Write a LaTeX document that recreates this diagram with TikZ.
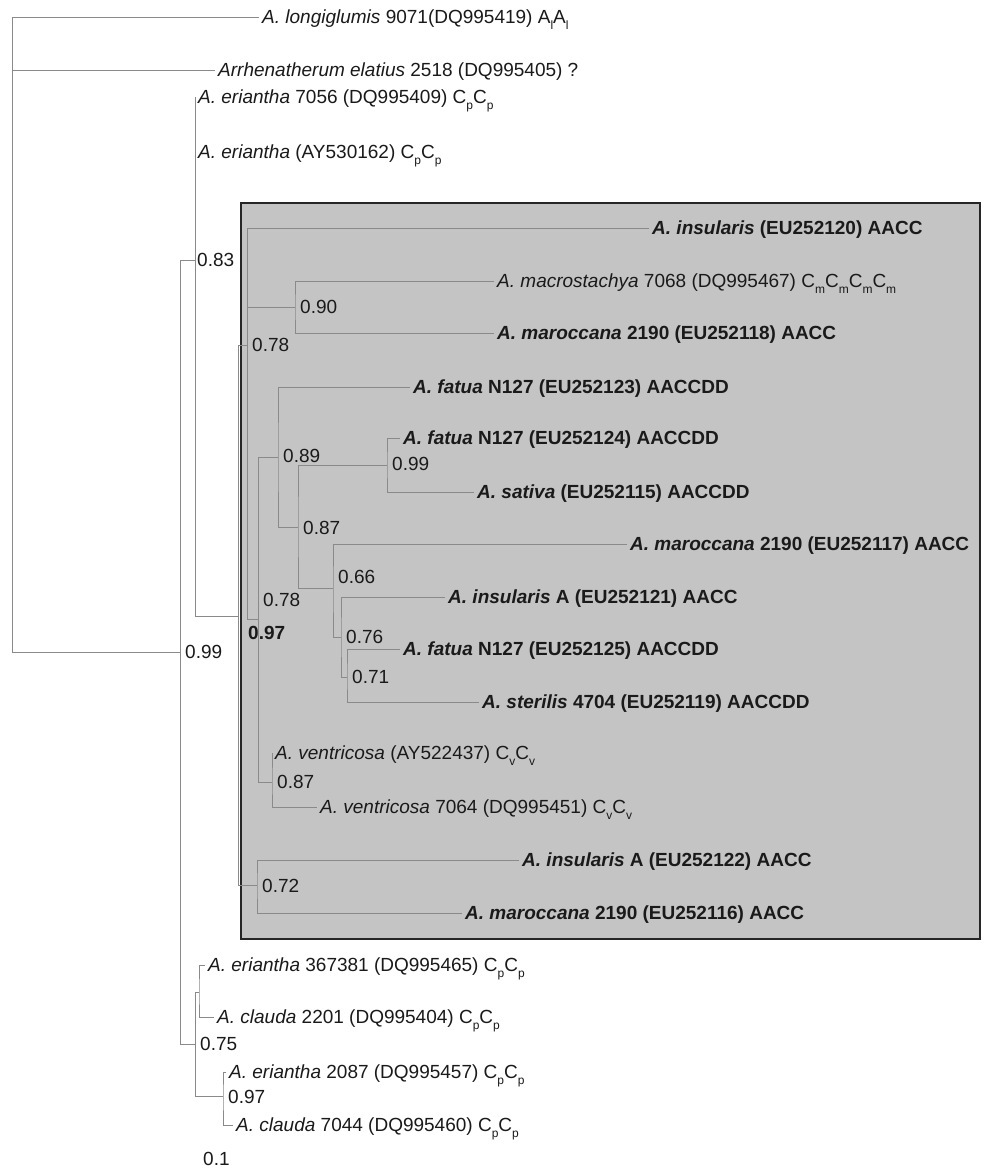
\documentclass[tikz,border=0pt]{standalone}
\usepackage{fontspec}
\setmainfont{Liberation Sans}
\definecolor{boxgray}{HTML}{C4C4C4}
\definecolor{linegray}{HTML}{8A8A8A}
\definecolor{txt}{HTML}{1A1A1A}
\newcommand\sbx[1]{\raisebox{-0.55ex}[0pt][0pt]{\fontsize{12}{12}\selectfont #1}}
\begin{document}
\begin{tikzpicture}[x=1pt,y=-1pt,
  br/.style={draw=linegray, line width=1pt},
  lf/.style={anchor=west, inner xsep=3pt, inner ysep=0pt, text height=13.6pt, text depth=0pt, text=txt, font=\fontsize{19}{22}\selectfont},
  bl/.style={lf, font=\fontsize{19}{22}\selectfont\bfseries},
  lab/.style={anchor=west, inner sep=0pt, text height=13.6pt, text depth=0pt, text=txt, font=\fontsize{19}{22}\selectfont},
  blab/.style={lab, font=\fontsize{19}{22}\selectfont\bfseries}]
\useasboundingbox (0,0) rectangle (989,1170);
\fill[white] (0,0) rectangle (989,1170);
% highlight box
\draw[fill=boxgray, draw=black!85, line width=2.4pt] (241,203) rectangle (980,939);

% internal nodes
\coordinate (root) at (12,652);
\coordinate (n099) at (180,652);
\coordinate (n083) at (195,260);
\coordinate (n097) at (238,616);
\coordinate (n078a) at (247,345);
\coordinate (n090) at (295,307);
\coordinate (n078b) at (258,619);
\coordinate (n089) at (278,457);
\coordinate (n087) at (298,527);
\coordinate (n099b) at (387,465);
\coordinate (n066) at (333,588);
\coordinate (n076) at (341,637);
\coordinate (n071) at (347,677);
\coordinate (nven) at (272,782);
\coordinate (n072) at (257,885);
\coordinate (n075) at (195,1044);
\coordinate (nsm) at (199,992);
\coordinate (n097c) at (223,1096);

% leaves
\node[lf] (lon) at (259,17) {\textit{A. longiglumis} 9071(DQ995419) A\sbx{l}A\sbx{l}};
\node[lf] (arr) at (215,70) {\textit{Arrhenatherum elatius} 2518 (DQ995405) ?};
\node[lf] (er1) at (195,97) {\textit{A. eriantha} 7056 (DQ995409) C\sbx{p}C\sbx{p}};
\node[lf] (er2) at (195,152) {\textit{A. eriantha} (AY530162) C\sbx{p}C\sbx{p}};
\node[bl] (ins1) at (649,228) {\textit{A. insularis} (EU252120) AACC};
\node[lf] (mac) at (494,281) {\textit{A. macrostachya} 7068 (DQ995467) C\sbx{m}C\sbx{m}C\sbx{m}C\sbx{m}};
\node[bl] (mar1) at (494,333) {\textit{A. maroccana} 2190 (EU252118) AACC};
\node[bl] (fa1) at (410,387) {\textit{A. fatua} N127 (EU252123) AACCDD};
\node[bl] (fa2) at (400,438) {\textit{A. fatua} N127 (EU252124) AACCDD};
\node[bl] (sat) at (474,492) {\textit{A. sativa} (EU252115) AACCDD};
\node[bl] (mar2) at (627,544) {\textit{A. maroccana} 2190 (EU252117) AACC};
\node[bl] (ins2) at (445,597) {\textit{A. insularis} A (EU252121) AACC};
\node[bl] (fa3) at (400,649) {\textit{A. fatua} N127 (EU252125) AACCDD};
\node[bl] (ste) at (479,702) {\textit{A. sterilis} 4704 (EU252119) AACCDD};
\node[lf] (ven1) at (272,753) {\textit{A. ventricosa} (AY522437) C\sbx{v}C\sbx{v}};
\node[lf] (ven2) at (317,807) {\textit{A. ventricosa} 7064 (DQ995451) C\sbx{v}C\sbx{v}};
\node[bl] (ins3) at (519,860) {\textit{A. insularis} A (EU252122) AACC};
\node[bl] (mar3) at (462,913) {\textit{A. maroccana} 2190 (EU252116) AACC};
\node[lf] (er3) at (205,965) {\textit{A. eriantha} 367381 (DQ995465) C\sbx{p}C\sbx{p}};
\node[lf] (cl1) at (214,1017) {\textit{A. clauda} 2201 (DQ995404) C\sbx{p}C\sbx{p}};
\node[lf] (er4) at (226,1072) {\textit{A. eriantha} 2087 (DQ995457) C\sbx{p}C\sbx{p}};
\node[lf] (cl2) at (233,1125) {\textit{A. clauda} 7044 (DQ995460) C\sbx{p}C\sbx{p}};

% branches
\draw[br] (lon.west) -| (root) -- (n099);
\draw[br] (arr.west) -| (root);
\draw[br] (n083) -- (n099 |- n083) -- (n099 |- n075) -- (n075);
\draw[br] (er1.west) -- (n083 |- er1.west) -- (n083 |- n097) -- (n097);
\draw[br] (n078a) -- (n097 |- n078a) -- (n097 |- n072) -- (n072);
\draw[br] (ins1.west) -- (n078a |- ins1.west) -- (n078a |- n078b) -- (n078b);
\draw[br] (n090) -- (n078a |- n090);
\draw[br] (mac.west) -| (n090) |- (mar1.west);
\draw[br] (n089) -- (n078b |- n089) -- (n078b |- nven) -- (nven);
\draw[br] (fa1.west) -| (n089) |- (n087);
\draw[br] (n099b) -| (n087) |- (n066);
\draw[br] (fa2.west) -| (n099b) |- (sat.west);
\draw[br] (mar2.west) -| (n066) |- (n076);
\draw[br] (ins2.west) -| (n076) |- (n071);
\draw[br] (fa3.west) -| (n071) |- (ste.west);
\draw[br] (ven1.west) -| (nven) |- (ven2.west);
\draw[br] (ins3.west) -| (n072) |- (mar3.west);
\draw[br] (nsm) -- (n075 |- nsm) -- (n075 |- n097c) -- (n097c);
\draw[br] (er3.west) -| (nsm) |- (cl1.west);
\draw[br] (er4.west) -| (n097c) |- (cl2.west);

% support values
\node[lab] (s1) at (197,260) {0.83};
\node[lab] (s2) at (185,652) {0.99};
\node[blab] (s3) at (248,633) {0.97};
\node[lab] (s4) at (252,345) {0.78};
\node[lab] (s5) at (300,307) {0.90};
\node[lab] (s6) at (283,456) {0.89};
\node[lab] (s7) at (303,528) {0.87};
\node[lab] (s8) at (392,464) {0.99};
\node[lab] (s9) at (263,600) {0.78};
\node[lab] (s10) at (338,577) {0.66};
\node[lab] (s11) at (346,637) {0.76};
\node[lab] (s12) at (352,677) {0.71};
\node[lab] (s13) at (277,782) {0.87};
\node[lab] (s14) at (262,886) {0.72};
\node[lab] (s15) at (200,1044) {0.75};
\node[lab] (s16) at (228,1097) {0.97};
\node[lab] (s17) at (203,1159) {0.1};
\end{tikzpicture}
\end{document}
